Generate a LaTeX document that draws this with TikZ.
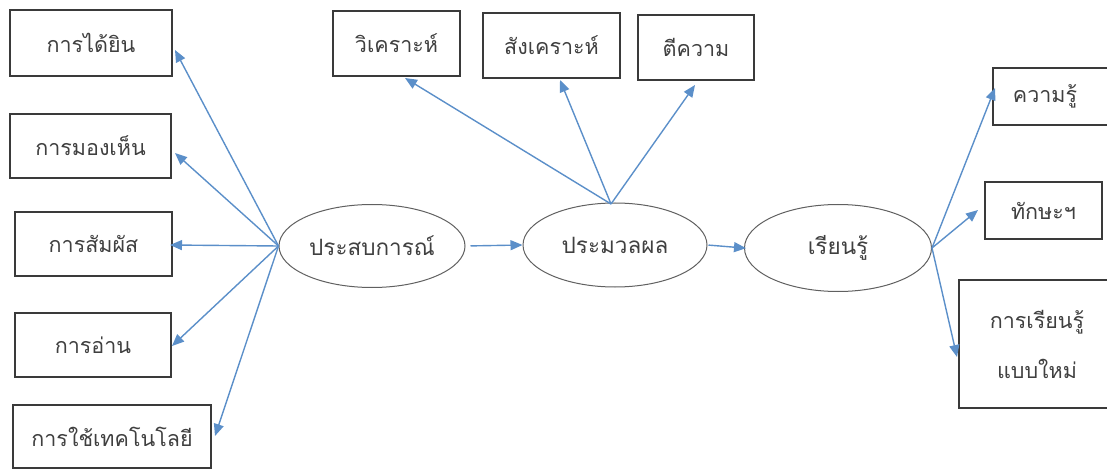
\documentclass[tikz,border=0pt]{standalone}
\usepackage{fontspec}
\setmainfont[Script=Thai]{Loma}
\usetikzlibrary{shapes.geometric,arrows.meta}
\definecolor{arrowblue}{HTML}{5B8FC9}
\definecolor{boxgray}{HTML}{3A3A3A}
\definecolor{ellgray}{HTML}{606060}
\begin{document}
\begin{tikzpicture}[x=1pt,y=-1pt,
  box/.style={draw=boxgray,line width=1.5pt,rectangle,inner sep=0pt,font=\fontsize{21.5}{25}\selectfont,text=black!75},
  ell/.style={draw=ellgray,line width=1pt,ellipse,inner sep=0pt,font=\fontsize{22.5}{26}\selectfont,text=black!75},
  arr/.style={draw=arrowblue,line width=1.4pt,-{Triangle[length=12pt,width=10pt]}}]
\useasboundingbox (0,0) rectangle (1107,470);
% left boxes
\node[box,minimum width=162,minimum height=66] (b1) at (91,43) {การได้ยิน};
\node[box,minimum width=161,minimum height=64] (b2) at (90.5,146) {การมองเห็น};
\node[box,minimum width=157,minimum height=64] (b3) at (93.5,244) {การสัมผัส};
\node[box,minimum width=156,minimum height=64] (b4) at (93,345) {การอ่าน};
\node[box,minimum width=198,minimum height=63] (b5) at (112,436.5) {การใช้เทคโนโลยี};
% top boxes
\node[box,minimum width=127,minimum height=65] (a1) at (396.5,43.5) {วิเคราะห์};
\node[box,minimum width=137,minimum height=65] (a2) at (551.5,45.5) {สังเคราะห์};
\node[box,minimum width=116,minimum height=65] (a3) at (696,47.5) {ตีความ};
% right boxes
\node[box,minimum width=122,minimum height=57] (r1) at (1054,96.5) {ความรู้\hspace*{18pt}};
\node[box,minimum width=117,minimum height=57] (r2) at (1043.5,210.5) {ทักษะฯ};
\node[box,minimum width=156,minimum height=128,align=center] (r3) at (1037,344) {การเรียนรู้\\[25pt]แบบใหม่};
% ellipses
\node[ell,minimum width=186,minimum height=83] (exp) at (372,246) {ประสบการณ์};
\node[ell,minimum width=184,minimum height=84] (proc) at (615,245) {ประมวลผล};
\node[ell,minimum width=187,minimum height=87] (learn) at (838,248) {เรียนรู้};
% arrow tips
\coordinate (t1) at (175,50);
\coordinate (t2) at (175,153);
\coordinate (t3) at (170,245);
\coordinate (t4) at (172,346);
\coordinate (t5) at (215,436);
\coordinate (u1) at (405,78);
\coordinate (u2) at (560,80);
\coordinate (u3) at (695,85);
\coordinate (v1) at (995,88);
\coordinate (v2) at (978,210);
\coordinate (v3) at (957,357);
\coordinate (ph) at (611,204);
% connectors
\foreach \t in {t1,t2,t3,t4,t5} \draw[arr] (exp.west) -- (\t);
\foreach \t in {u1,u2,u3} \draw[arr] (ph) -- (\t);
\foreach \t in {v1,v2,v3} \draw[arr] (learn.east) -- (\t);
\draw[arr,shorten >=0pt,shorten <=5pt] (exp.east) -- (proc.west);
\draw[arr,shorten >=-2pt,shorten <=1pt] (proc.east) -- (learn.west);
\end{tikzpicture}
\end{document}
